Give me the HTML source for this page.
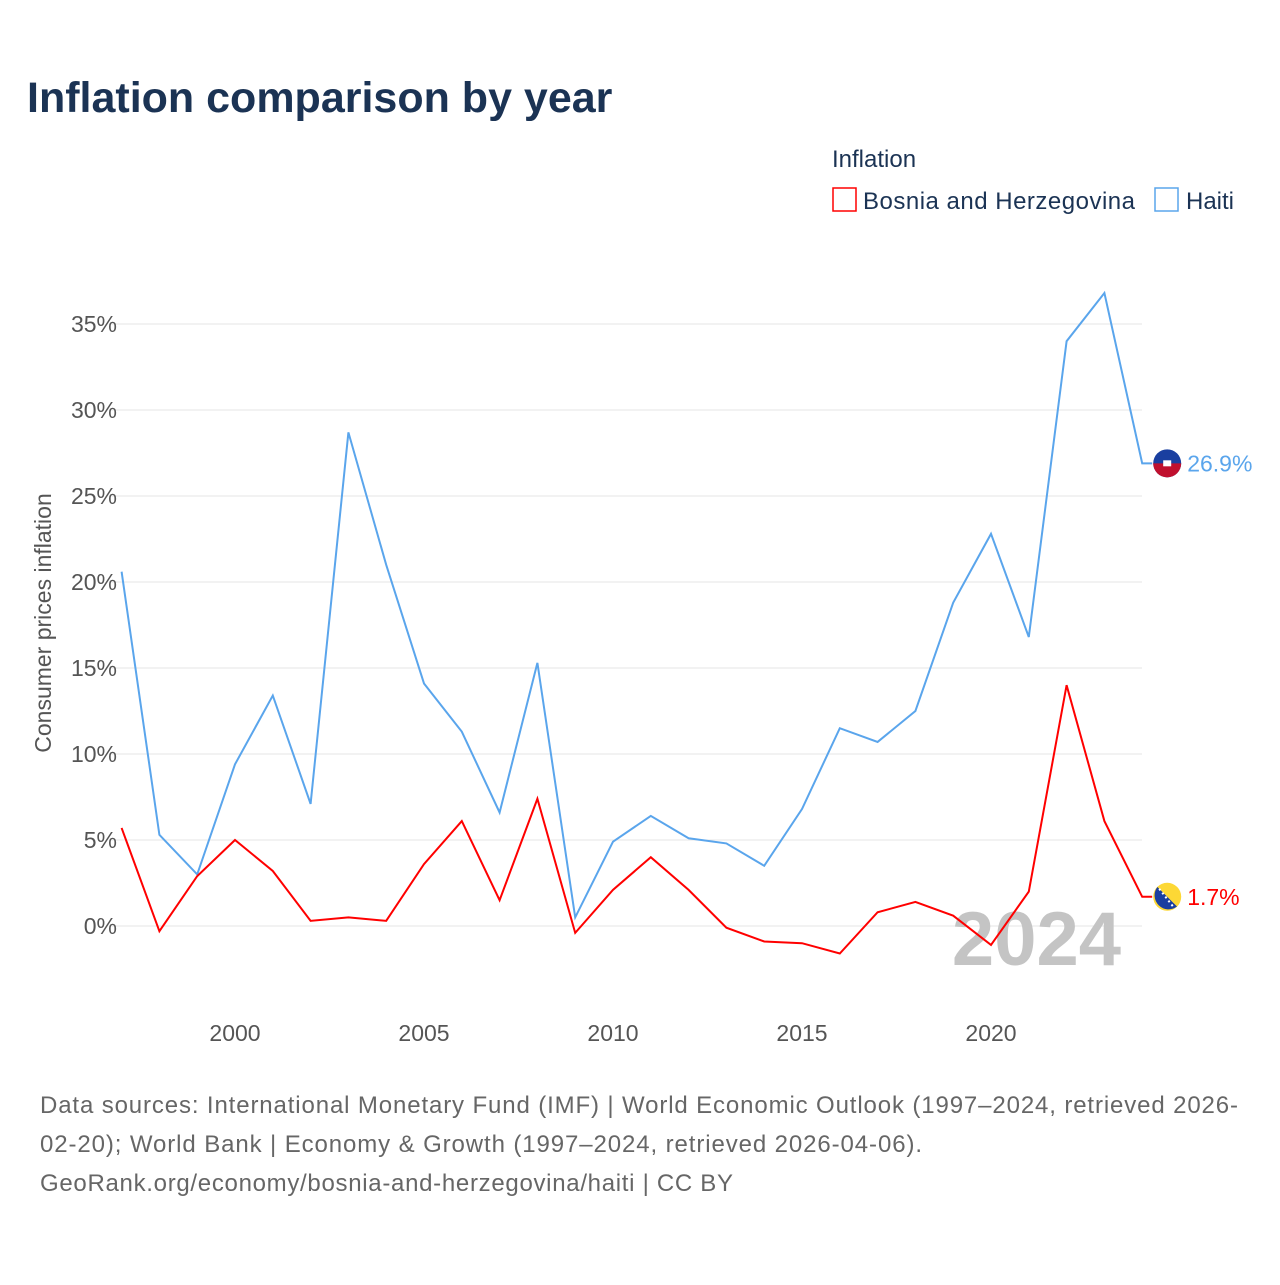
<!DOCTYPE html>
<html><head><meta charset="utf-8"><style>
body{margin:0;background:#fff;font-family:"Liberation Sans",sans-serif}
</style></head><body>
<svg width="1280" height="1280" xmlns="http://www.w3.org/2000/svg" font-family="Liberation Sans, sans-serif">
<text x="27" y="112" font-size="43" font-weight="bold" fill="#1b3354">Inflation comparison by year</text>
<text x="832" y="167" font-size="24" fill="#1b3354">Inflation</text>
<g><rect x="833" y="188" width="23" height="23" fill="none" stroke="#f00" stroke-width="1.5"/><text x="863" y="209" font-size="24" fill="#1b3354" textLength="272">Bosnia and Herzegovina</text></g>
<g><rect x="1155" y="188" width="23" height="23" fill="none" stroke="#5aa5ec" stroke-width="1.5"/><text x="1186" y="209" font-size="24" fill="#1b3354">Haiti</text></g>
<g id="grid"></g><g id="xt"></g>
<text transform="translate(51,623) rotate(-90)" text-anchor="middle" font-size="23" fill="#555">Consumer prices inflation</text>
<text x="1121" y="965" text-anchor="end" font-size="76" font-weight="bold" fill="#c4c4c4">2024</text>
<g id="lines"></g>
<text font-size="24" fill="#666"><tspan x="40" y="1113" textLength="1198">Data sources: International Monetary Fund (IMF) | World Economic Outlook (1997–2024, retrieved 2026-</tspan><tspan x="40" y="1152" textLength="882">02-20); World Bank | Economy &amp; Growth (1997–2024, retrieved 2026-04-06).</tspan><tspan x="40" y="1191" textLength="693">GeoRank.org/economy/bosnia-and-herzegovina/haiti | CC BY</tspan></text>
</svg>
<script>
const years=[1997,1998,1999,2000,2001,2002,2003,2004,2005,2006,2007,2008,2009,2010,2011,2012,2013,2014,2015,2016,2017,2018,2019,2020,2021,2022,2023,2024];
const haiti=[20.6,5.3,3.0,9.4,13.4,7.1,28.7,21.0,14.1,11.3,6.6,15.3,0.5,4.9,6.4,5.1,4.8,3.5,6.8,11.5,10.7,12.5,18.8,22.8,16.8,34.0,36.8,26.9];
const bosnia=[5.7,-0.3,2.9,5.0,3.2,0.3,0.5,0.3,3.6,6.1,1.5,7.4,-0.4,2.1,4.0,2.1,-0.1,-0.9,-1.0,-1.6,0.8,1.4,0.6,-1.1,2.0,14.0,6.1,1.7];
const yTicks=[0,5,10,15,20,25,30,35];
const xTicks=[2000,2005,2010,2015,2020];
const NS="http://www.w3.org/2000/svg";
const X=y=>121.6+(y-1997)*37.8, Y=v=>926-v*17.2;
function mk(t,a,p){const e=document.createElementNS(NS,t);for(const k in a)e.setAttribute(k,a[k]);p.appendChild(e);return e;}
const g=document.getElementById('grid');
yTicks.forEach(v=>{
 const l=mk('line',{x1:110,x2:1142,y1:Y(v),y2:Y(v),stroke:'#e6e6e6'},g);
 
 
 const t=mk('text',{x:117,y:Y(v)+8,'text-anchor':'end','font-size':23,fill:'#555'},g);t.textContent=v+'%';
 
 
});
const xt=document.getElementById('xt');
xTicks.forEach(v=>{const t=mk('text',{x:X(v),y:1041,'text-anchor':'middle','font-size':23,fill:'#555'},xt);t.textContent=v;
 
 });
const L=document.getElementById('lines');
function series(d,c,name,c1,c2,diag){
 const last=d[d.length-1];
 const pts=d.map((v,i)=>X(years[i])+','+Y(v)).join(' ')+' '+(X(2024)+10)+','+Y(last);
 const p=mk('polyline',{points:pts,fill:'none',stroke:c,'stroke-width':2},L);
 
 
 const cx=X(2024)+25, cy=Y(last), r=14;
 const f=mk('g',{},L);
 
 
 mk('circle',{cx:cx,cy:cy,r:r,fill:c1},f);
 if(diag){
  mk('path',{d:`M${cx-r*0.7},${cy-r*0.7} A${r},${r} 0 0 0 ${cx+r*0.7},${cy+r*0.7} Z`,fill:c2},f);
  mk('line',{x1:cx-8,y1:cy-8,x2:cx+6,y2:cy+10,stroke:'#fff','stroke-width':2,'stroke-dasharray':'2 3'},f);
 } else {
  mk('path',{d:`M${cx-r},${cy} A${r},${r} 0 0 0 ${cx+r},${cy} Z`,fill:c2},f);
  mk('rect',{x:cx-4,y:cy-3,width:8,height:6,fill:'#fff'},f);
 }
 const t=mk('text',{x:X(2024)+45,y:Y(last)+8,'font-size':23,fill:c},L);t.textContent=last.toFixed(1)+'%';
 
 
}
series(haiti,'#5aa5ec','haiti','#1a3fa0','#c0102e',false);
series(bosnia,'#f00','bosnia','#fdd835','#1a3fa0',true);
</script>
</body></html>
